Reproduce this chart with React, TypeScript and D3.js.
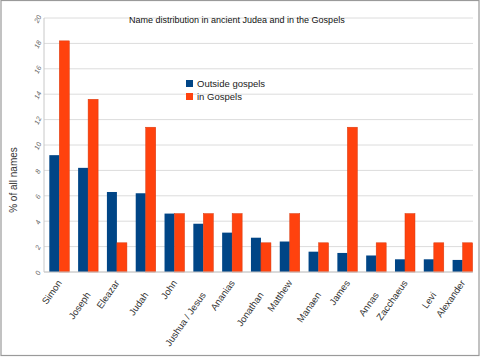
import React from "react";
import * as d3 from "d3";

const categories = ["Simon", "Joseph", "Eleazar", "Judah", "John", "Jushua / Jesus", "Ananias", "Jonathan", "Matthew", "Manaen", "James", "Annas", "Zacchaeus", "Levi", "Alexander"];
const outsideGospels = [9.2, 8.2, 6.3, 6.2, 4.6, 3.8, 3.1, 2.7, 2.4, 1.6, 1.5, 1.3, 1.0, 1.0, 0.95];
const inGospels = [18.2, 13.6, 2.3, 11.4, 4.6, 4.6, 4.6, 2.3, 4.6, 2.3, 11.4, 2.3, 4.6, 2.3, 2.3];
const yTicks = [0, 2, 4, 6, 8, 10, 12, 14, 16, 18, 20];
const seriesNames = ["Outside gospels", "in Gospels"];
const colors = ["#004586", "#ff420e"];

const W = 480, H = 360;
const plotLeft = 44, plotRight = 473, plotTop = 18, plotBottom = 272;
const font = "'Liberation Sans', Arial, sans-serif";

export default function App() {
  const y = d3.scaleLinear().domain([0, 20]).range([plotBottom, plotTop]);
  const x = d3.scaleBand<string>().domain(categories).range([44.9, 477.0]).padding(0);
  const barW = 10;
  return (
    <svg width={W} height={H} style={{ position: "absolute", left: 0, top: 0, background: "#fff" }}>
      <rect x={1} y={0.5} width={478} height={355} fill="#fff" stroke="#9a9a9a" strokeWidth={1.2} />
      {yTicks.map((t) => (
        <line key={"g" + t} x1={plotLeft} x2={plotRight} y1={y(t)} y2={y(t)} stroke="#dcdcdc" strokeWidth={1} />
      ))}
      <line x1={plotLeft} x2={plotLeft} y1={plotTop} y2={plotBottom} stroke="#c8c8c8" />
      {yTicks.map((t) => (
        <text key={"t" + t} transform={`translate(${40},${y(t) + 2}) rotate(-65)`} textAnchor="middle"
          fontFamily={font} fontSize={7} fontStyle="italic" fill="#666">{t}</text>
      ))}
      {categories.map((c, i) => {
        const cx = x(c)! + x.bandwidth() / 2;
        return (
          <g key={c}>
            <rect x={cx - barW} y={y(outsideGospels[i])} width={barW} height={plotBottom - y(outsideGospels[i])} fill={colors[0]} />
            <rect x={cx} y={y(inGospels[i])} width={barW} height={plotBottom - y(inGospels[i])} fill={colors[1]} stroke="#d8380c" strokeWidth={0.5} />
          </g>
        );
      })}
      <line x1={plotLeft} x2={plotRight} y1={plotBottom} y2={plotBottom} stroke="#c8c8c8" />
      {categories.map((c, i) => {
        const cx = x(c)! + x.bandwidth() / 2;
        const ly = plotBottom + (i % 2 === 0 ? 11 : 23);
        return (
          <text key={"l" + c} transform={`translate(${cx + 3},${ly}) rotate(-55)`} textAnchor="end"
            fontFamily={font} fontSize={9.5} fill="#333">{c}</text>
        );
      })}
      <text transform={`translate(17,180) rotate(-90)`} textAnchor="middle" fontFamily={font} fontSize={10} fill="#333">% of all names</text>
      <text x={129} y={23} fontFamily={font} fontSize={9} fill="#111">Name distribution in ancient Judea and in the Gospels</text>
      {seriesNames.map((s, i) => (
        <g key={s}>
          <rect x={186} y={80 + i * 13} width={7} height={7} fill={colors[i]} />
          <text x={197} y={87 + i * 13} fontFamily={font} fontSize={9.5} fill="#222">{s}</text>
        </g>
      ))}
    </svg>
  );
}
